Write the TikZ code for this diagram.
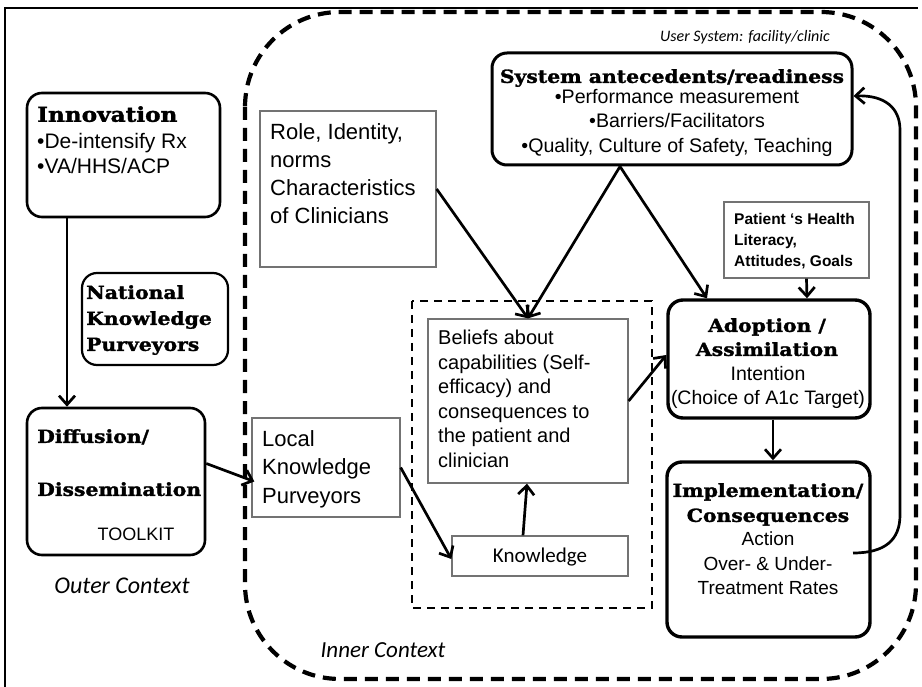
\documentclass[tikz,border=0pt]{standalone}
\usepackage{fontspec}
\setmainfont{Liberation Sans}
\newfontfamily\slabfont{DejaVu Serif}[UprightFont=* Bold, FakeStretch=1.13, FakeBold=1.6]
\newfontfamily\calfont{Carlito}
\usetikzlibrary{arrows.meta,fit}
\begin{document}
\begin{tikzpicture}[x=1pt,y=-1pt,
  rbox/.style={draw, line width=2.6pt, rounded corners=15pt, inner sep=0pt},
  gbox/.style={draw=black!55, line width=1.3pt, inner sep=0pt},
  tl/.style={inner sep=0pt, anchor=north west, align=left},
  tc/.style={inner sep=0pt, anchor=north, align=center},
  slab/.style={font=\slabfont\fontsize{#1}{26}\selectfont},
  arr/.style={line width=2.7pt, -{Straight Barb[length=9pt,width=16pt]}},
  ctx/.style={inner sep=0pt, anchor=base, font=\calfont\itshape\fontsize{#1}{#1}\selectfont}
]
\useasboundingbox (0,0) rectangle (922,687);
\fill[white] (0,0) rectangle (922,687);
% frame lines
\draw[line width=2pt] (5,687) -- (5,8) -- (918,8);
% inner context dashed outline
\draw[line width=4.2pt, dash pattern=on 13pt off 8pt, rounded corners=95pt] (245,12) rectangle (916,679);
% beliefs dashed group
\draw[line width=2pt, dash pattern=on 8pt off 6pt] (412,301) rectangle (652,608);

% boxes
\node[rbox, fit={(27,93) (220,217)}] (innov) {};
\node[rbox, line width=2.2pt, fit={(82,273) (228,365)}] (natl) {};
\node[rbox, fit={(27,408) (205,555)}] (diff) {};
\node[gbox, fit={(260,111) (436,267)}] (role) {};
\node[gbox, fit={(252,418) (400,517)}] (local) {};
\node[rbox, line width=3pt, fit={(492,53) (852,165)}] (sys) {};
\node[gbox, fit={(724,202) (869,278)}] (pat) {};
\node[rbox, line width=3.4pt, fit={(668,300) (870,418)}] (adopt) {};
\node[rbox, line width=3.4pt, fit={(667,462) (870,637)}] (impl) {};
\node[gbox, fit={(428,319) (628,483)}] (bel) {};
\node[gbox, fit={(452,536) (628,576)}] (know) {};

% texts
\node[tl, slab=20.5] (tInnov) at (37,106) {Innovation};
\node[tl, font=\fontsize{21}{25.5}\selectfont] (tInnovB) at (37,133) {\textbullet De-intensify Rx\\\textbullet VA/HHS/ACP};
\node[tl, font=\slabfont\fontsize{18}{26}\selectfont] (tNatl) at (86,285) {National\\Knowledge\\Purveyors};
\node[tl, slab=18] (tDiff1) at (37,429) {Diffusion/};
\node[tl, slab=18] (tDiff2) at (37,482) {Dissemination};
\node[tc, font=\fontsize{18}{18}\selectfont] (tTool) at (136,528) {TOOLKIT};
\node[ctx=24] (tOuter) at (122,593) {Outer Context};
\node[ctx=23] (tInner) at (383,657) {Inner Context};
\node[ctx=16, anchor=base east] (tUser) at (830,42) {User System: facility/clinic};
\node[tl, font=\fontsize{22}{28}\selectfont] (tRole) at (270,123) {Role, Identity,\\norms\\Characteristics\\of Clinicians};
\node[tl, font=\fontsize{22}{28.5}\selectfont] (tLocal) at (262,430) {Local\\Knowledge\\Purveyors};
\node[tc, slab=18] (tSys) at (672,69) {System antecedents/readiness};
\node[tc, font=\fontsize{19.6}{24.5}\selectfont] (tSysB) at (677,89) {\textbullet Performance measurement\\\textbullet Barriers/Facilitators\\\textbullet Quality, Culture of Safety, Teaching};
\node[tl, font=\bfseries\fontsize{15.5}{21}\selectfont] (tPat) at (734,213) {Patient ‘s Health\\Literacy,\\Attitudes, Goals};
\node[tc, font=\slabfont\fontsize{18}{24}\selectfont] (tAdopt) at (767,318) {Adoption /\\Assimilation};
\node[tc, font=\fontsize{19.5}{24.5}\selectfont] (tAdoptB) at (768,366) {Intention\\(Choice of A1c Target)};
\node[tc, font=\slabfont\fontsize{18}{25}\selectfont] (tImpl) at (768,483) {Implementation/\\Consequences};
\node[tc, font=\fontsize{19}{24.3}\selectfont] (tImplB) at (768,532) {Action\\Over- \& Under-\\Treatment Rates};
\node[tl, font=\fontsize{20}{24.5}\selectfont] (tBel) at (438,330) {Beliefs about\\capabilities (Self-\\efficacy) and\\consequences to\\the patient and\\clinician};
\node[tc, font=\calfont\fontsize{21}{21}\selectfont] (tKnow) at (540,548) {Knowledge};

% connectors
\draw[arr] ([xshift=-56.5pt]innov.south) -- ([xshift=-49pt]diff.north);
\draw[arr] ([yshift=18pt]diff.east) -- ([yshift=-14pt,xshift=3pt]local.west);
\draw[arr] (local.east) -- ([yshift=-3pt]know.west);
\draw[arr] ([xshift=-17pt]know.north) -- ([xshift=-1pt]bel.south);
\draw[arr] (role.east) -- (bel.north);
\draw[arr] ([xshift=-52pt]sys.south) -- (bel.north);
\draw[arr] ([xshift=-52pt]sys.south) -- ([xshift=-62pt]adopt.north);
\draw[arr] ([xshift=10pt]pat.south) -- ([xshift=38pt]adopt.north);
\draw[arr] (bel.east) -- ([yshift=4pt]adopt.west);
\draw[arr] ([xshift=4pt]adopt.south) -- ([xshift=4.5pt]impl.north);
\coordinate (fbstart) at (853,553);
\draw[arr] (fbstart) .. controls (885,553) and (900,540) .. (900,515) -- (900,130) .. controls (900,108) and (885,95) .. ([yshift=13pt]sys.east);
\end{tikzpicture}
\end{document}
